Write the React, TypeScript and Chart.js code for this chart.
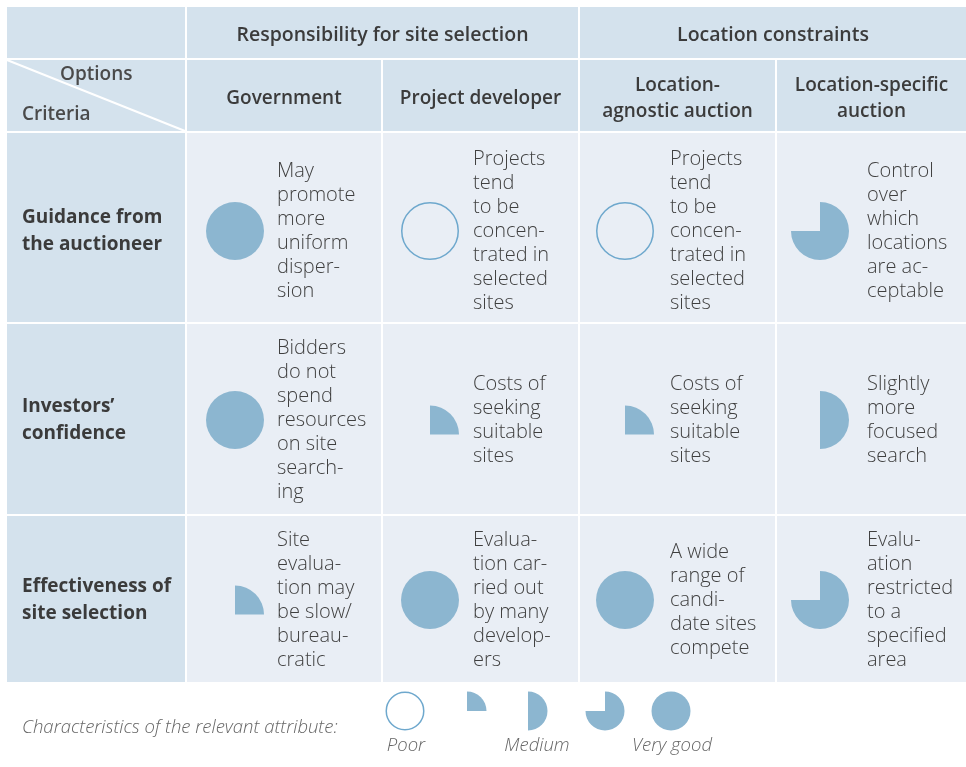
import React, { useEffect, useRef } from "react";
import { Chart, registerables } from "chart.js";

Chart.register(...registerables);

// ---------- data ----------
const groupHeaders = ["Responsibility for site selection", "Location constraints"];
const optionLabels = [["Government"], ["Project developer"], ["Location-", "agnostic auction"], ["Location-specific", "auction"]];
const criteriaLabels = [["Guidance from", "the auctioneer"], ["Investors’", "confidence"], ["Effectiveness of", "site selection"]];

// score: 0 = poor (empty) ... 4 = very good (full)
const guidanceScores = [4, 0, 0, 3];
const confidenceScores = [4, 1, 1, 2];
const effectivenessScores = [1, 4, 4, 3];

const guidanceNotes = [
  ["May", "promote", "more", "uniform", "disper-", "sion"],
  ["Projects", "tend", "to be", "concen-", "trated in", "selected", "sites"],
  ["Projects", "tend", "to be", "concen-", "trated in", "selected", "sites"],
  ["Control", "over", "which", "locations", "are ac-", "ceptable"],
];
const confidenceNotes = [
  ["Bidders", "do not", "spend", "resources", "on site", "search-", "ing"],
  ["Costs of", "seeking", "suitable", "sites"],
  ["Costs of", "seeking", "suitable", "sites"],
  ["Slightly", "more", "focused", "search"],
];
const effectivenessNotes = [
  ["Site", "evalua-", "tion may", "be slow/", "bureau-", "cratic"],
  ["Evalua-", "tion car-", "ried out", "by many", "develop-", "ers"],
  ["A wide", "range of", "candi-", "date sites", "compete"],
  ["Evalu-", "ation", "restricted", "to a", "specified", "area"],
];

const legendTitle = "Characteristics of the relevant attribute:";
const legendLevels = [0, 1, 2, 3, 4];
const legendLabels = ["Poor", "", "Medium", "", "Very good"];

const allScores = [guidanceScores, confidenceScores, effectivenessScores];
const allNotes = [guidanceNotes, confidenceNotes, effectivenessNotes];

// ---------- layout (pixel units of the scales) ----------
const W = 966;
const H = 767;
const colEdges = [[7, 185], [187, 381], [383, 578], [580, 775], [777, 966]];
const rowEdges = [[7, 58], [60, 131], [133, 322], [324, 514], [516, 682]];
const bodyRowCenters = [231, 420, 600];
const ballX = [235, 430, 625, 820];
const noteOffsetX = 90;
const ballR = 29;
const lineH = 24;
const legendY = 711;
const legendX = [405, 467, 528, 605, 671];
const legendLabelX = [406, 0, 537, 0, 672];
const legendR = 19.5;

const HEAD_BG = "#d4e2ed";
const BODY_BG = "#e9eef5";
const BALL = "#8cb6d0";
const RING = "#6ea8cd";
const TEXT = "#3b3b3b";
const FONT = "'Open Sans', sans-serif";

function drawBall(ctx: CanvasRenderingContext2D, cx: number, cy: number, r: number, score: number, shiftQuarter: boolean) {
  ctx.save();
  ctx.fillStyle = BALL;
  if (score === 0) {
    ctx.beginPath();
    ctx.arc(cx, cy, r - 0.75, 0, Math.PI * 2);
    ctx.strokeStyle = RING;
    ctx.lineWidth = 1.5;
    ctx.stroke();
  } else if (score === 1) {
    const py = shiftQuarter ? cy + r / 2 : cy;
    ctx.beginPath();
    ctx.moveTo(cx, py);
    ctx.arc(cx, py, r, -Math.PI / 2, 0);
    ctx.closePath();
    ctx.fill();
  } else if (score === 2) {
    ctx.beginPath();
    ctx.moveTo(cx, cy);
    ctx.arc(cx, cy, r, -Math.PI / 2, Math.PI / 2);
    ctx.closePath();
    ctx.fill();
  } else if (score === 3) {
    ctx.beginPath();
    ctx.moveTo(cx, cy);
    ctx.arc(cx, cy, r, -Math.PI / 2, Math.PI);
    ctx.closePath();
    ctx.fill();
  } else {
    ctx.beginPath();
    ctx.arc(cx, cy, r, 0, Math.PI * 2);
    ctx.fill();
  }
  ctx.restore();
}

const tablePlugin = {
  id: "tablePlugin",
  beforeDatasetsDraw(chart: any) {
    const ctx: CanvasRenderingContext2D = chart.ctx;
    const xs = chart.scales.x;
    const ys = chart.scales.y;
    const px = (v: number) => xs.getPixelForValue(v);
    const py = (v: number) => ys.getPixelForValue(v);
    const rect = (x0: number, x1: number, y0: number, y1: number, c: string) => {
      ctx.fillStyle = c;
      ctx.fillRect(px(x0), py(y0), px(x1) - px(x0), py(y1) - py(y0));
    };
    ctx.save();
    ctx.fillStyle = "#ffffff";
    ctx.fillRect(0, 0, chart.width, chart.height);

    // header row 1
    rect(colEdges[0][0], colEdges[0][1], rowEdges[0][0], rowEdges[0][1], HEAD_BG);
    rect(colEdges[1][0], colEdges[2][1], rowEdges[0][0], rowEdges[0][1], HEAD_BG);
    rect(colEdges[3][0], colEdges[4][1], rowEdges[0][0], rowEdges[0][1], HEAD_BG);
    // header row 2
    for (let c = 0; c < 5; c++) rect(colEdges[c][0], colEdges[c][1], rowEdges[1][0], rowEdges[1][1], HEAD_BG);
    // body
    for (let r = 2; r < 5; r++) {
      for (let c = 0; c < 5; c++) rect(colEdges[c][0], colEdges[c][1], rowEdges[r][0], rowEdges[r][1], c === 0 ? HEAD_BG : BODY_BG);
    }
    // diagonal
    ctx.strokeStyle = "#ffffff";
    ctx.lineWidth = 2;
    ctx.beginPath();
    ctx.moveTo(px(colEdges[0][0]), py(rowEdges[1][0]));
    ctx.lineTo(px(colEdges[0][1]), py(rowEdges[1][1]));
    ctx.stroke();

    ctx.textBaseline = "middle";
    ctx.fillStyle = TEXT;
    // group headers
    ctx.font = `600 19.5px ${FONT}`;
    ctx.textAlign = "center";
    const gy = (rowEdges[0][0] + rowEdges[0][1]) / 2 + 3;
    ctx.fillText(groupHeaders[0], px((colEdges[1][0] + colEdges[2][1]) / 2), py(gy));
    ctx.fillText(groupHeaders[1], px((colEdges[3][0] + colEdges[4][1]) / 2), py(gy));
    // option headers
    ctx.font = `600 19px ${FONT}`;
    const oy = (rowEdges[1][0] + rowEdges[1][1]) / 2 + 3;
    optionLabels.forEach((lines, i) => {
      const cx = (colEdges[i + 1][0] + colEdges[i + 1][1]) / 2;
      const lh = 26;
      const y0 = oy - ((lines.length - 1) * lh) / 2;
      lines.forEach((t, k) => ctx.fillText(t, px(cx), py(y0 + k * lh)));
    });
    // corner
    ctx.fillStyle = "#4a4a4a";
    ctx.textAlign = "left";
    ctx.fillText("Options", px(60), py(75));
    ctx.fillText("Criteria", px(22), py(115));
    // criteria labels
    ctx.fillStyle = TEXT;
    ctx.font = `700 19px ${FONT}`;
    criteriaLabels.forEach((lines, i) => {
      const cy = bodyRowCenters[i];
      const lh = 27;
      const y0 = cy - ((lines.length - 1) * lh) / 2;
      lines.forEach((t, k) => ctx.fillText(t, px(22), py(y0 + k * lh)));
    });
    // notes
    ctx.font = `300 20px ${FONT}`;
    ctx.fillStyle = "#3f3f3f";
    allNotes.forEach((row, i) => {
      row.forEach((lines, j) => {
        const tx = colEdges[j + 1][0] + noteOffsetX;
        const y0 = bodyRowCenters[i] - ((lines.length - 1) * lineH) / 2;
        lines.forEach((t, k) => ctx.fillText(t, px(tx), py(y0 + k * lineH)));
      });
    });
    // legend texts
    ctx.font = `italic 300 18.5px ${FONT}`;
    ctx.fillStyle = "#666666";
    ctx.textAlign = "left";
    ctx.fillText(legendTitle, px(22), py(728));
    ctx.textAlign = "center";
    legendLabels.forEach((t, i) => {
      if (!t) return;
      ctx.fillText(t, px(legendLabelX[i]), py(746));
    });
    ctx.restore();
  },
  afterDatasetsDraw(chart: any) {
    const ctx: CanvasRenderingContext2D = chart.ctx;
    chart.data.datasets.forEach((ds: any, di: number) => {
      const meta = chart.getDatasetMeta(di);
      meta.data.forEach((el: any, k: number) => {
        const raw = ds.data[k];
        drawBall(ctx, el.x, el.y, ds.ballRadius, raw.score, ds.shiftQuarter);
      });
    });
  },
};

export default function App() {
  const ref = useRef<HTMLCanvasElement | null>(null);
  useEffect(() => {
    if (!ref.current) return;
    const cellPoints: any[] = [];
    allScores.forEach((row, i) => {
      row.forEach((score, j) => {
        cellPoints.push({ x: ballX[j], y: bodyRowCenters[i], score });
      });
    });
    const legendPoints = legendLevels.map((score, i) => ({ x: legendX[i], y: legendY, score }));
    const chart = new Chart(ref.current, {
      type: "scatter",
      data: {
        datasets: [
          { data: cellPoints, pointRadius: 0, ballRadius: ballR, shiftQuarter: true } as any,
          { data: legendPoints, pointRadius: 0, ballRadius: legendR, shiftQuarter: false } as any,
        ],
      },
      options: {
        animation: false,
        responsive: false,
        maintainAspectRatio: false,
        layout: { padding: 0 },
        events: [],
        scales: {
          x: { type: "linear", min: 0, max: W, display: false },
          y: { type: "linear", min: 0, max: H, reverse: true, display: false },
        },
        plugins: { legend: { display: false }, tooltip: { enabled: false } },
      },
      plugins: [tablePlugin],
    });
    return () => chart.destroy();
  }, []);
  return (
    <div style={{ position: "fixed", left: 0, top: 0, width: W, height: H, background: "#fff" }}>
      <canvas ref={ref} width={W} height={H} style={{ width: W, height: H, display: "block" }} />
    </div>
  );
}
